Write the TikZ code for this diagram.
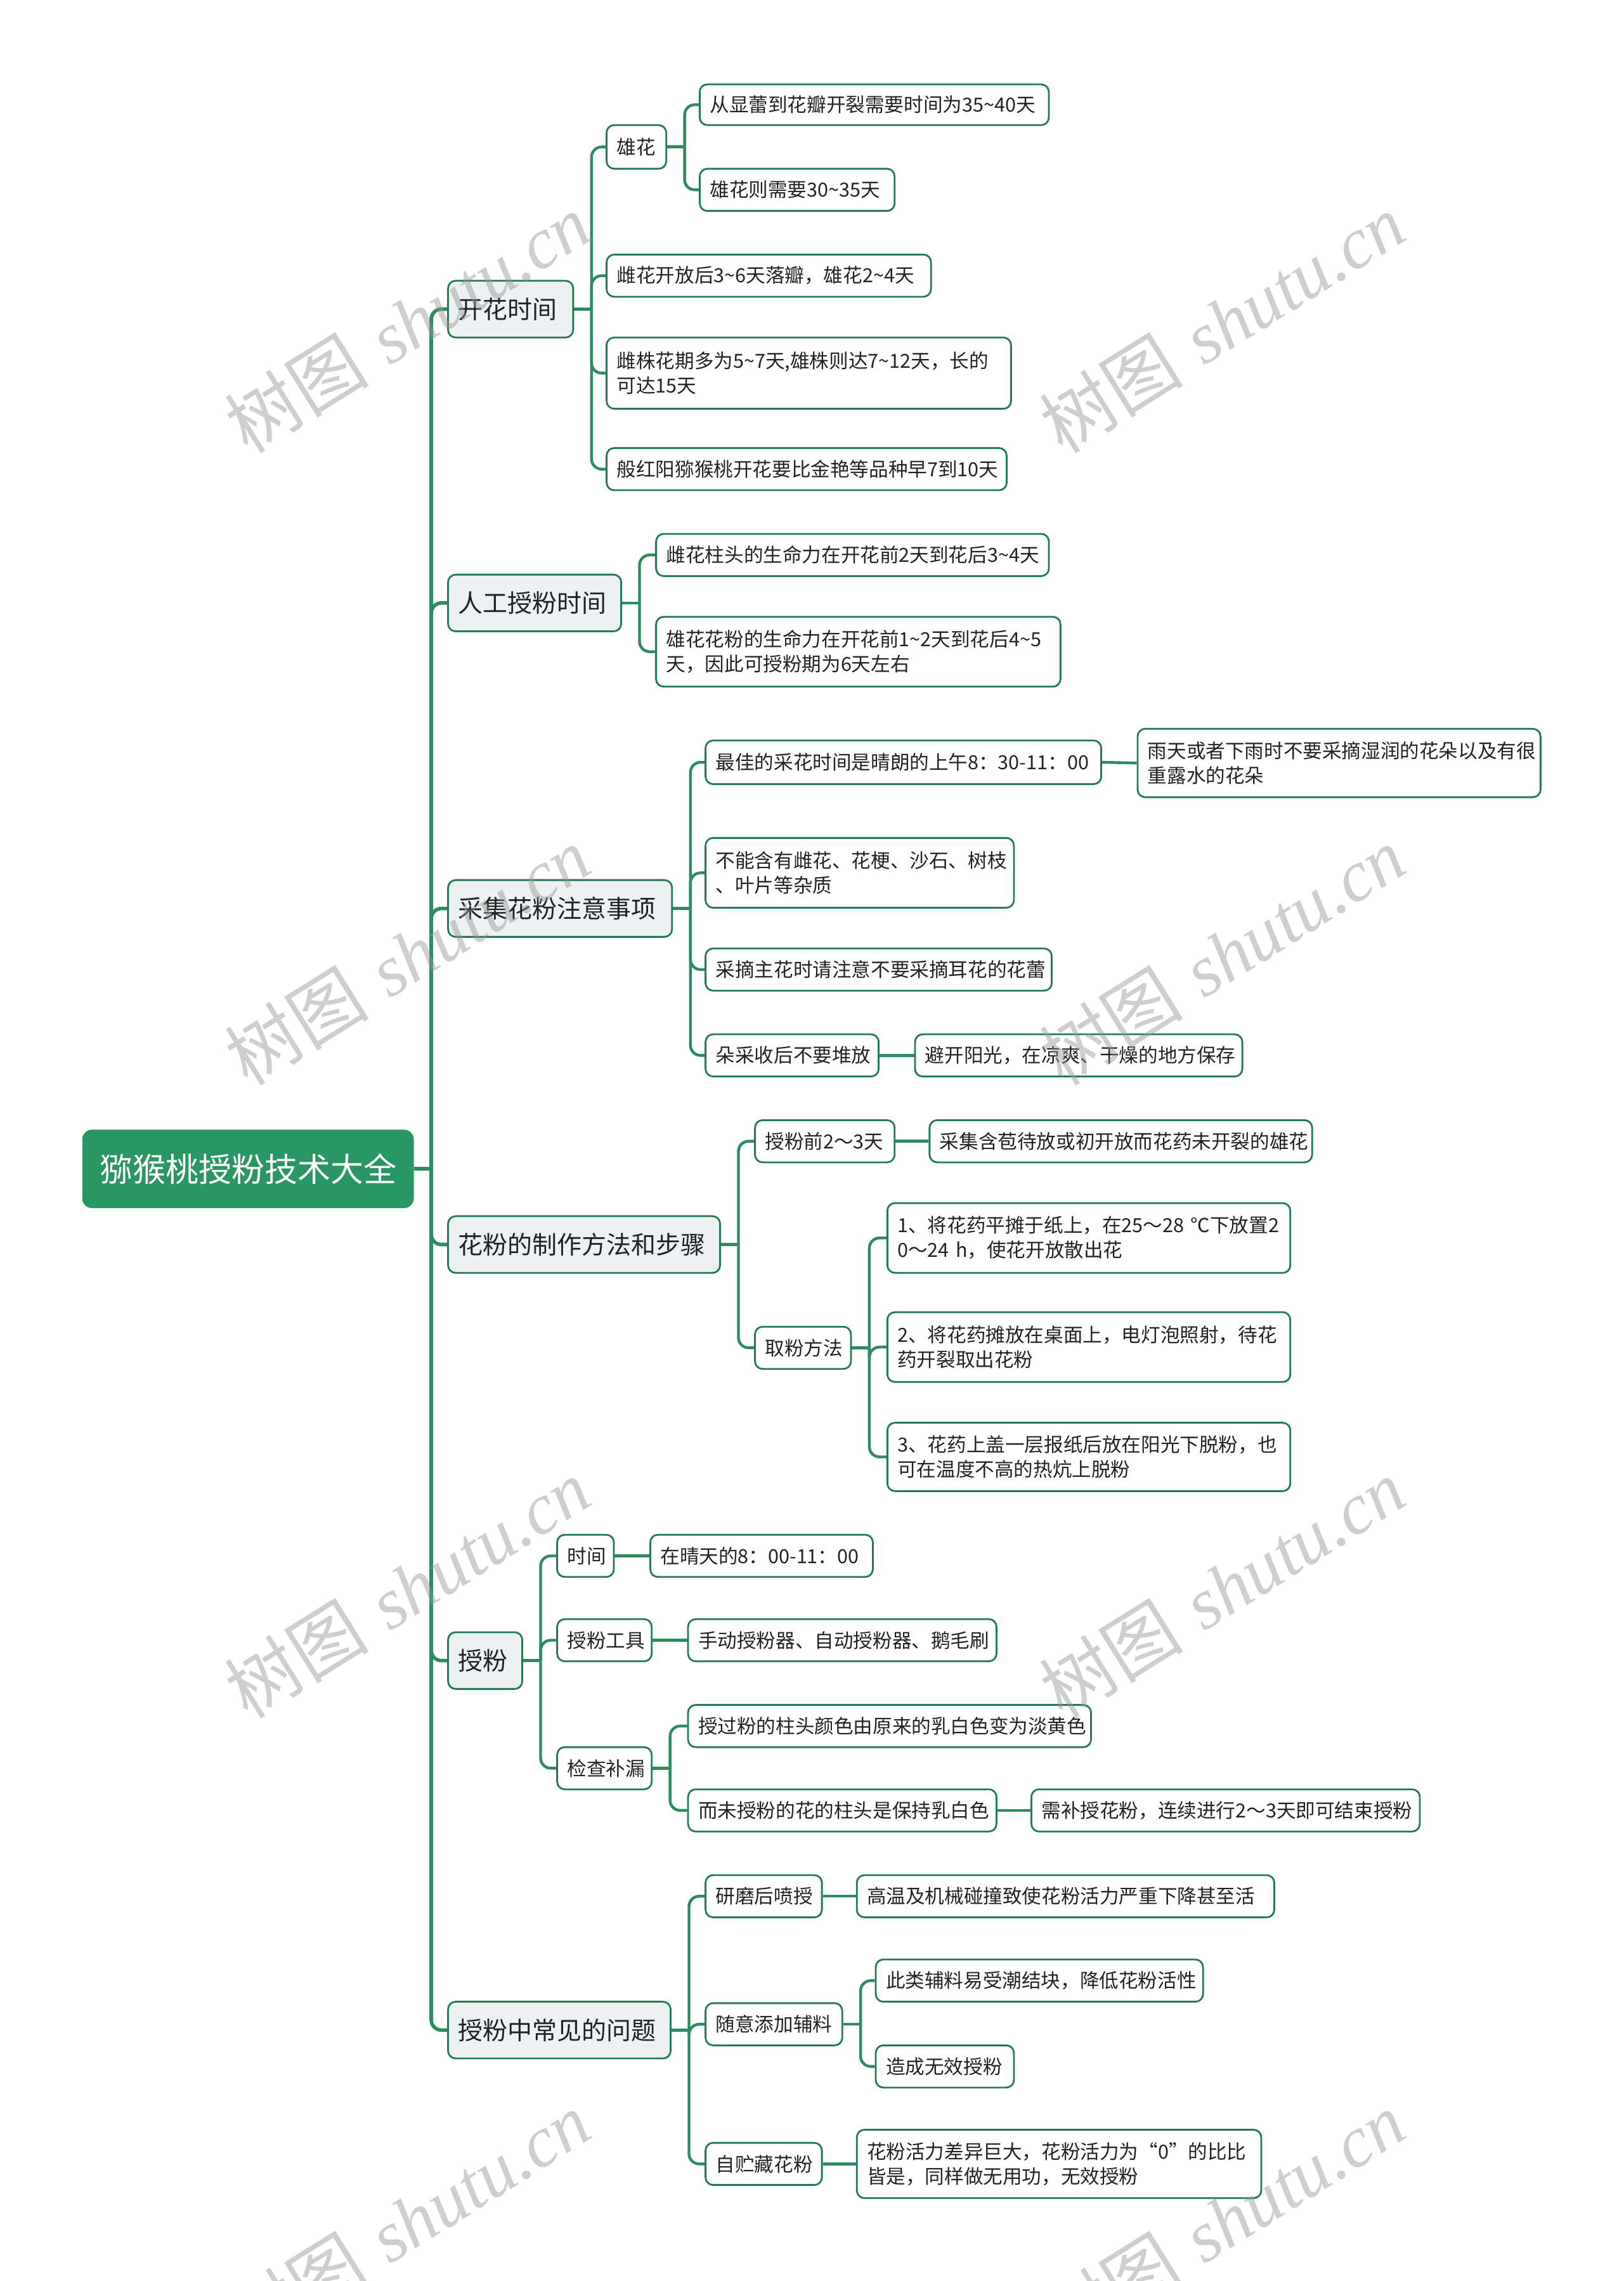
\documentclass[tikz,border=0pt]{standalone}
\usepackage{fontspec}
\newfontfamily\cjk{Noto Sans CJK SC}
\newfontfamily\wmserif{Liberation Serif}
\definecolor{rootg}{RGB}{42,150,100}
\definecolor{cg}{RGB}{44,140,94}
\definecolor{bd}{RGB}{36,122,82}
\definecolor{lvlfill}{RGB}{237,241,244}
\definecolor{txt}{RGB}{34,34,34}
\definecolor{wmc}{RGB}{150,150,150}
\newcommand\leaffont{\cjk\fontsize{15.3pt}{19.5pt}\selectfont}
\newcommand\lvlfont{\cjk\fontsize{19.5pt}{23pt}\selectfont}
\newcommand\rootfont{\cjk\fontsize{26pt}{30pt}\selectfont}
\newcommand\tl{\char"007E\relax}
\pgfdeclarelayer{bg}
\pgfsetlayers{bg,main}
\tikzset{
  base/.style={draw=bd, line width=1.4pt, rounded corners=6pt, inner xsep=8pt, inner ysep=0pt, align=left, text=txt},
  leaf/.style={base, fill=white, font=\leaffont},
  lvl/.style={base, fill=lvlfill, font=\lvlfont},
  rootn/.style={fill=rootg, draw=rootg, line width=1pt, rounded corners=7pt, inner xsep=8pt, text=white, font=\rootfont, align=center},
  conn/.style={draw=cg, line width=2.2pt, rounded corners=8pt},
  trunk/.style={conn, line width=2.8pt},
  wm/.style={text=wmc, opacity=0.45, rotate=32, font=\fontsize{57pt}{60pt}\selectfont, inner sep=0pt}
}
\newcommand\bx[7]{%
  \pgfmathsetmacro\bcx{(#3+#5)/2}%
  \pgfmathsetmacro\bcy{(#4+#6)/2}%
  \pgfmathsetmacro\bw{(#5-#3)*1.147}%
  \pgfmathsetmacro\bh{(#6-#4)*1.147}%
  \pgfmathsetmacro\btw{\bw-16}%
  \node[#1, minimum width=\bw pt, minimum height=\bh pt, text width=\btw pt] (#2) at (\bcx,\bcy) {#7};}
\newcommand\fan[3][conn]{%
  \draw[#1] (#2.east) -- ++(12,0) coordinate (#2-j);
  \foreach \ch in {#3} {\draw[#1] (#2-j) |- (\ch.west);}}
\newcommand\single[2]{\draw[conn] (#1.east) -- (#2.west);}
\begin{document}
\begin{tikzpicture}[x=1.147pt,y=-1.147pt]
\useasboundingbox (0,0) rectangle (1116,1568);
\begin{pgfonlayer}{bg}
\fill[white] (0,0) rectangle (1116,1568);
\end{pgfonlayer}
% root and level 1
\bx{rootn}{root}{57}{777}{284}{830}{猕猴桃授粉技术大全}
\bx{lvl}{k1}{308}{193}{394}{232}{开花时间}
\bx{lvl}{k2}{308}{395}{427}{434}{人工授粉时间}
\bx{lvl}{k3}{308}{605}{462}{644}{采集花粉注意事项}
\bx{lvl}{k4}{308}{836}{495}{875}{花粉的制作方法和步骤}
\bx{lvl}{k5}{308}{1122}{359}{1161}{授粉}
\bx{lvl}{k6}{308}{1376}{461}{1415}{授粉中常见的问题}
% group 1
\bx{leaf}{a1}{417}{86}{458}{116}{雄花}
\bx{leaf}{a11}{481}{58}{721}{86}{\mbox{从显蕾到花瓣开裂需要时间为35\tl40天}}
\bx{leaf}{a12}{481}{116}{615}{145}{\mbox{雄花则需要30\tl35天}}
\bx{leaf}{a2}{417}{175}{640}{204}{\mbox{雌花开放后3\tl6天落瓣，雄花2\tl4天}}
\bx{leaf}{a3}{417}{232}{695}{281}{\mbox{雌株花期多为5\tl7天,雄株则达7\tl12天，长的}\\可达15天}
\bx{leaf}{a4}{417}{308}{692}{337}{\mbox{般红阳猕猴桃开花要比金艳等品种早7到10天}}
% group 2
\bx{leaf}{b1}{451}{367}{721}{396}{\mbox{雌花柱头的生命力在开花前2天到花后3\tl4天}}
\bx{leaf}{b2}{451}{424}{729}{472}{\mbox{雄花花粉的生命力在开花前1\tl2天到花后4\tl5}\\天，因此可授粉期为6天左右}
% group 3
\bx{leaf}{c1}{485}{509}{757}{539}{\mbox{最佳的采花时间是晴朗的上午8：30-11：00}}
\bx{leaf}{c11}{782}{501}{1059}{548}{\mbox{雨天或者下雨时不要采摘湿润的花朵以及有很}\\重露水的花朵}
\bx{leaf}{c2}{485}{576}{697}{624}{\mbox{不能含有雌花、花梗、沙石、树枝}\\、叶片等杂质}
\bx{leaf}{c3}{485}{652}{723}{681}{\mbox{采摘主花时请注意不要采摘耳花的花蕾}}
\bx{leaf}{c4}{485}{711}{604}{740}{\mbox{朵采收后不要堆放}}
\bx{leaf}{c41}{629}{711}{854}{740}{\mbox{避开阳光，在凉爽、干燥的地方保存}}
% group 4
\bx{leaf}{d1}{519}{770}{615}{799}{\mbox{授粉前2～3天}}
\bx{leaf}{d11}{639}{770}{902}{799}{\mbox{采集含苞待放或初开放而花药未开裂的雄花}}
\bx{leaf}{d2}{519}{912}{585}{941}{取粉方法}
\bx{leaf}{d21}{610}{827}{887}{875}{\mbox{1、将花药平摊于纸上，在25～28 ℃下放置2}\\\mbox{0～24 h，使花开放散出花}}
\bx{leaf}{d22}{610}{902}{887}{950}{\mbox{2、将花药摊放在桌面上，电灯泡照射，待花}\\药开裂取出花粉}
\bx{leaf}{d23}{610}{978}{887}{1025}{\mbox{3、花药上盖一层报纸后放在阳光下脱粉，也}\\可在温度不高的热炕上脱粉}
% group 5
\bx{leaf}{e1}{383}{1055}{422}{1084}{时间}
\bx{leaf}{e11}{447}{1055}{600}{1084}{\mbox{在晴天的8：00-11：00}}
\bx{leaf}{e2}{383}{1113}{448}{1142}{授粉工具}
\bx{leaf}{e21}{473}{1113}{685}{1142}{\mbox{手动授粉器、自动授粉器、鹅毛刷}}
\bx{leaf}{e3}{383}{1201}{448}{1230}{检查补漏}
\bx{leaf}{e31}{473}{1172}{750}{1201}{\mbox{授过粉的柱头颜色由原来的乳白色变为淡黄色}}
\bx{leaf}{e32}{473}{1230}{685}{1259}{\mbox{而未授粉的花的柱头是保持乳白色}}
\bx{leaf}{e321}{709}{1230}{976}{1259}{\mbox{需补授花粉，连续进行2～3天即可结束授粉}}
% group 6
\bx{leaf}{f1}{485}{1289}{565}{1318}{\mbox{研磨后喷授}}
\bx{leaf}{f11}{589}{1289}{876}{1318}{\mbox{高温及机械碰撞致使花粉活力严重下降甚至活}}
\bx{leaf}{f2}{485}{1377}{579}{1406}{\mbox{随意添加辅料}}
\bx{leaf}{f21}{602}{1347}{827}{1376}{\mbox{此类辅料易受潮结块，降低花粉活性}}
\bx{leaf}{f22}{602}{1406}{697}{1435}{\mbox{造成无效授粉}}
\bx{leaf}{f3}{485}{1473}{565}{1502}{\mbox{自贮藏花粉}}
\bx{leaf}{f31}{589}{1464}{867}{1511}{\mbox{花粉活力差异巨大，花粉活力为“0”的比比}\\皆是，同样做无用功，无效授粉}
% connectors
\begin{pgfonlayer}{bg}
\fan[trunk]{root}{k1,k2,k3,k4,k5,k6}
\fan{k1}{a1,a2,a3,a4}
\fan{a1}{a11,a12}
\fan{k2}{b1,b2}
\fan{k3}{c1,c2,c3,c4}
\single{c1}{c11}
\single{c4}{c41}
\fan{k4}{d1,d2}
\single{d1}{d11}
\fan{d2}{d21,d22,d23}
\fan{k5}{e1,e2,e3}
\single{e1}{e11}
\single{e2}{e21}
\fan{e3}{e31,e32}
\single{e32}{e321}
\fan{k6}{f1,f2,f3}
\single{f1}{f11}
\fan{f2}{f21,f22}
\single{f3}{f31}
\end{pgfonlayer}
% watermarks
\foreach \wx/\wy [count=\i] in {280/222, 840/222, 280/657, 840/657, 280/1092, 840/1092, 280/1527, 840/1527}
  {\node[wm] (wm\i) at (\wx,\wy) {{\cjk 树图} {\wmserif\itshape shutu.cn}};}
\end{tikzpicture}
\end{document}
